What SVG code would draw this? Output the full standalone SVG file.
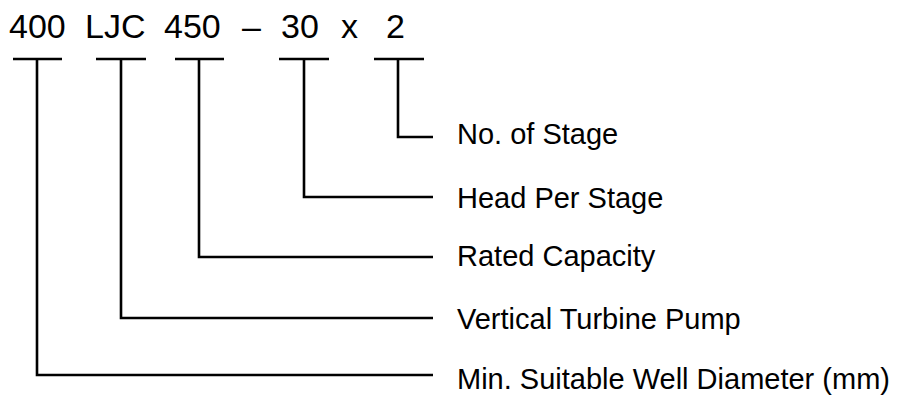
<svg xmlns="http://www.w3.org/2000/svg" width="899" height="396" viewBox="0 0 899 396">
<style>
.code{font-family:"Liberation Sans",Arial,sans-serif;font-size:34px;fill:#000}
.lbl{font-family:"Liberation Sans",Arial,sans-serif;font-size:29px;fill:#000}
.ln{fill:none;stroke:#000;stroke-width:2.6}
</style>
<rect width="899" height="396" fill="#fff"/>
<g id="code">
<text class="code" x="9" y="38">400</text>
<text class="code" x="85" y="38">LJC</text>
<text class="code" x="164" y="38">450</text>
<text class="code" x="242" y="38">–</text>
<text class="code" x="281" y="38">30</text>
<text class="code" x="341" y="38">x</text>
<text class="code" x="386" y="38">2</text>
</g>
<g id="connectors">
<path class="ln" d="M13 59H62M37 59V375H433"/>
<path class="ln" d="M96 59H146M121 59V318H433"/>
<path class="ln" d="M175 59H224M199 59V257H433"/>
<path class="ln" d="M279 59H329M304 59V197H433"/>
<path class="ln" d="M374 59H424M398 59V137H433"/>
</g>
<g id="n-stage"><text class="lbl" x="457" y="144">No. of Stage</text></g>
<g id="n-head"><text class="lbl" x="457" y="208">Head Per Stage</text></g>
<g id="n-capacity"><text class="lbl" x="457" y="266">Rated Capacity</text></g>
<g id="n-pump"><text class="lbl" x="457" y="329">Vertical Turbine Pump</text></g>
<g id="n-diameter"><text class="lbl" x="457" y="389">Min. Suitable Well Diameter (mm)</text></g>
</svg>
